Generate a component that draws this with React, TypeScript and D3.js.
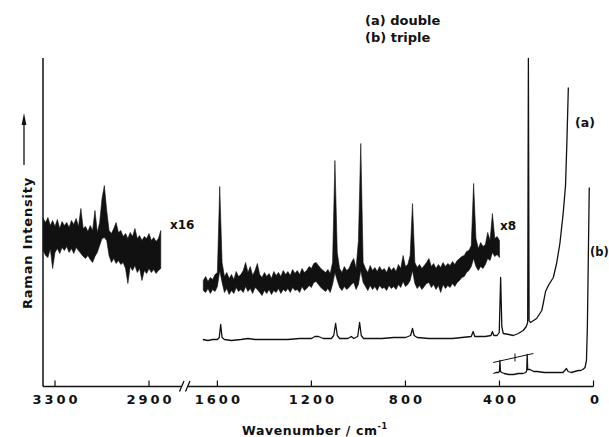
import React from "react";
import * as d3 from "d3";

type Band = [number, number, number]; // wavenumber, upper, lower
type Pt = [number, number];

// x16 amplified C-H region (upper / lower envelope of noisy trace)
const x16Band: Band[] = [
  [3350, 168, 136], [3340, 164, 131], [3330, 169, 129], [3320, 161, 138], [3310, 166, 118],
  [3300, 160, 134], [3290, 167, 138], [3280, 158, 133], [3270, 165, 139], [3260, 161, 136],
  [3250, 164, 140], [3240, 159, 134], [3230, 166, 138], [3220, 162, 133], [3210, 168, 139],
  [3200, 160, 136], [3190, 178, 133], [3180, 158, 130], [3170, 160, 128], [3160, 155, 131],
  [3150, 161, 127], [3140, 156, 124], [3130, 176, 130], [3120, 154, 134], [3110, 164, 141],
  [3100, 188, 148], [3090, 201, 149], [3080, 176, 146], [3070, 156, 131], [3060, 153, 124],
  [3050, 158, 128], [3040, 164, 123], [3030, 154, 126], [3020, 156, 122], [3010, 150, 124],
  [3000, 153, 118], [2990, 148, 103], [2980, 154, 120], [2970, 150, 116], [2960, 158, 121],
  [2950, 148, 114], [2940, 151, 118], [2930, 146, 106], [2920, 150, 116], [2910, 148, 113],
  [2900, 153, 118], [2890, 146, 114], [2880, 149, 117], [2870, 145, 113], [2860, 148, 116],
  [2850, 156, 118],
];

// x8 amplified fingerprint region
const x8Band: Band[] = [
  [1660, 106, 96], [1650, 110, 94], [1640, 105, 98], [1630, 109, 93], [1620, 107, 97],
  [1610, 112, 95], [1600, 114, 100], [1590, 200, 116], [1580, 124, 104], [1570, 110, 94],
  [1560, 114, 98], [1550, 108, 92], [1540, 112, 96], [1530, 107, 93], [1520, 115, 99],
  [1510, 110, 95], [1500, 112, 97], [1490, 116, 94], [1480, 124, 100], [1470, 114, 95],
  [1460, 120, 98], [1450, 111, 93], [1440, 116, 99], [1430, 123, 97], [1420, 112, 94],
  [1410, 109, 91], [1400, 114, 96], [1390, 110, 93], [1380, 113, 97], [1370, 108, 92],
  [1360, 115, 96], [1350, 111, 94], [1340, 114, 98], [1330, 110, 93], [1320, 116, 97],
  [1310, 112, 95], [1300, 115, 98], [1290, 111, 94], [1280, 117, 99], [1270, 113, 96],
  [1260, 116, 97], [1250, 112, 94], [1240, 118, 100], [1230, 114, 96], [1220, 116, 98],
  [1210, 120, 101], [1200, 118, 99], [1190, 123, 104], [1180, 124, 105], [1170, 121, 102],
  [1160, 118, 99], [1150, 116, 97], [1140, 114, 95], [1130, 117, 98], [1120, 113, 94],
  [1110, 124, 102], [1100, 226, 114], [1090, 134, 106], [1080, 118, 99], [1070, 114, 96],
  [1060, 120, 100], [1050, 116, 97], [1040, 118, 99], [1030, 124, 102], [1020, 128, 104],
  [1010, 118, 97], [1000, 146, 102], [990, 243, 116], [980, 124, 104], [970, 118, 100],
  [960, 114, 96], [950, 121, 101], [940, 116, 97], [930, 119, 100], [920, 115, 96],
  [910, 120, 101], [900, 116, 98], [890, 118, 99], [880, 114, 96], [870, 120, 101],
  [860, 116, 98], [850, 119, 100], [840, 115, 97], [830, 122, 102], [820, 118, 99],
  [810, 131, 105], [800, 120, 100], [790, 122, 102], [780, 131, 106], [770, 183, 116],
  [760, 124, 103], [750, 119, 98], [740, 122, 101], [730, 118, 97], [720, 121, 100],
  [710, 124, 103], [700, 128, 104], [690, 120, 99], [680, 123, 102], [670, 118, 97],
  [660, 122, 101], [650, 119, 94], [640, 124, 102], [630, 120, 98], [620, 123, 101],
  [610, 121, 99], [600, 125, 103], [590, 122, 100], [580, 126, 104], [570, 128, 106],
  [560, 130, 109], [550, 131, 110], [540, 135, 114], [530, 136, 116], [520, 141, 120],
  [510, 203, 128], [500, 148, 120], [490, 138, 116], [480, 144, 120], [470, 140, 118],
  [460, 142, 122], [450, 154, 128], [440, 146, 126], [430, 173, 134], [420, 148, 130],
  [410, 150, 132], [400, 146, 129],
];

// (a) double monochromator, unamplified
const traceA: Pt[] = [
  [1662, 47], [1640, 46], [1620, 47], [1600, 47], [1592, 49], [1586, 62], [1580, 49], [1570, 47],
  [1540, 46], [1500, 47], [1470, 48], [1440, 47], [1400, 47], [1350, 47], [1300, 47], [1250, 48],
  [1200, 48], [1185, 50], [1170, 50], [1150, 48], [1115, 48], [1105, 51], [1097, 63], [1090, 51],
  [1080, 48], [1045, 48], [1030, 50], [1020, 48], [1003, 50], [995, 64], [988, 51], [978, 48],
  [950, 48], [900, 48], [850, 49], [800, 49], [778, 51], [770, 58], [763, 51], [750, 49],
  [700, 48], [650, 48], [600, 48], [560, 49], [520, 50], [512, 55], [505, 50], [490, 50],
  [460, 50], [436, 51], [430, 55], [424, 51], [410, 51], [401, 54], [395, 109], [390, 60],
  [384, 53], [360, 52], [341, 51], [320, 53], [299, 56], [286, 60], [280, 64], [277, 328],
  [274, 66], [268, 64], [242, 68], [220, 76], [213, 84], [204, 95], [192, 101], [171, 109],
  [157, 123], [143, 143], [129, 173], [119, 201], [113, 246], [107, 299],
];

// (b) triple monochromator
const traceB: Pt[] = [
  [426, 13], [415, 14], [405, 14], [400, 15], [398, 26], [396, 15], [390, 14], [380, 13],
  [360, 12], [340, 12], [320, 13], [300, 13], [288, 14], [284, 16], [282, 32], [280, 17],
  [270, 17], [255, 15], [240, 15], [210, 14], [180, 14], [150, 14], [130, 14], [122, 16],
  [115, 18], [108, 15], [95, 14], [80, 15], [65, 16], [55, 16], [45, 17], [36, 19],
  [30, 26], [26, 60], [22, 130], [18, 199],
];

const cutoffLine: Pt[] = [[427, 24], [256, 33]];
const cutoffTick: Pt[] = [[334, 25], [334, 33]];

const tickValues = [3300, 2900, 1600, 1200, 800, 400, 0];
const tickLabels = ["3300", "2900", "1600", "1200", "800", "400", "0"];
const legendLines = ["(a) double", "(b) triple"];

export default function App() {
  const W = 609;
  const H = 437;
  const x = d3.scaleLinear().domain([3351, 2764, 1725, 0]).range([43, 181, 188, 593.5]);
  const y = d3.scaleLinear().domain([0, 330]).range([386.5, 56.5]);
  const area = d3
    .area<Band>()
    .x((d) => x(d[0]))
    .y0((d) => y(d[2]))
    .y1((d) => y(d[1]));
  const line = d3
    .line<Pt>()
    .x((d) => x(d[0]))
    .y((d) => y(d[1]));

  const font = "'DejaVu Sans', sans-serif";
  const y0 = y(0);
  const xLeftEnd = x(2764);
  const xRightStart = x(1725);

  return (
    <svg
      width={W}
      height={H}
      viewBox={`0 0 ${W} ${H}`}
      style={{ position: "absolute", left: 0, top: 0, background: "#fff" }}
      fontFamily={font}
      fontWeight="bold"
    >
      <rect x={0} y={0} width={W} height={H} fill="#fff" />

      {/* legend */}
      {legendLines.map((t, i) => (
        <text key={t} x={365} y={25 + i * 16.5} fontSize={13} fill="#111">
          {t}
        </text>
      ))}

      {/* y axis */}
      <line x1={43} y1={y(330) + 1.5} x2={43} y2={y0} stroke="#111" strokeWidth={1.5} />
      <line x1={24} y1={165} x2={24} y2={123} stroke="#111" strokeWidth={1.3} />
      <polygon points="24,113 21.6,125 26.4,125" fill="#111" />
      <text
        transform="translate(31.5,243) rotate(-90)"
        textAnchor="middle"
        fontSize={13}
        letterSpacing={0.8}
        fill="#111"
      >
        Raman Intensity
      </text>

      {/* x axis */}
      <line x1={43} y1={y0} x2={xLeftEnd} y2={y0} stroke="#111" strokeWidth={1.5} />
      <line x1={xRightStart} y1={y0} x2={x(0)} y2={y0} stroke="#111" strokeWidth={1.5} />
      <line x1={179.5} y1={391.5} x2={184} y2={381} stroke="#111" strokeWidth={1.3} />
      <line x1={185.5} y1={391.5} x2={190} y2={381} stroke="#111" strokeWidth={1.3} />
      {tickValues.map((t, i) => (
        <g key={t}>
          <line x1={x(t)} y1={y0} x2={x(t)} y2={y0 - 6} stroke="#111" strokeWidth={1.2} />
          <text
            x={x(t) + 1.5 + (t === 0 ? 1 : 0)}
            y={404}
            textAnchor="middle"
            fontSize={13}
            letterSpacing={3}
            fill="#111"
          >
            {tickLabels[i]}
          </text>
        </g>
      ))}
      <text x={242} y={435} fontSize={12.5} letterSpacing={0.6} fill="#111">
        Wavenumber / cm
        <tspan fontSize={8} dy={-6}>
          -1
        </tspan>
      </text>

      {/* amplified noisy traces */}
      <path d={area(x16Band) || ""} fill="#111" stroke="#111" strokeWidth={0.6} strokeLinejoin="miter" />
      <path d={area(x8Band) || ""} fill="#111" stroke="#111" strokeWidth={0.6} strokeLinejoin="miter" />
      <text x={170} y={229} fontSize={12} fill="#111">
        x16
      </text>
      <text x={500} y={230} fontSize={12} fill="#111">
        x8
      </text>

      {/* unamplified traces */}
      <path d={line(traceA) || ""} fill="none" stroke="#111" strokeWidth={1.3} strokeLinejoin="round" />
      <path d={line(traceB) || ""} fill="none" stroke="#111" strokeWidth={1.3} strokeLinejoin="round" />
      <path d={line(cutoffLine) || ""} fill="none" stroke="#111" strokeWidth={1} />
      <path d={line(cutoffTick) || ""} fill="none" stroke="#111" strokeWidth={1} />
      <text x={575} y={127} fontSize={12.5} fill="#111">
        (a)
      </text>
      <text x={590} y={256} fontSize={11.5} fill="#111">
        (b)
      </text>
    </svg>
  );
}
